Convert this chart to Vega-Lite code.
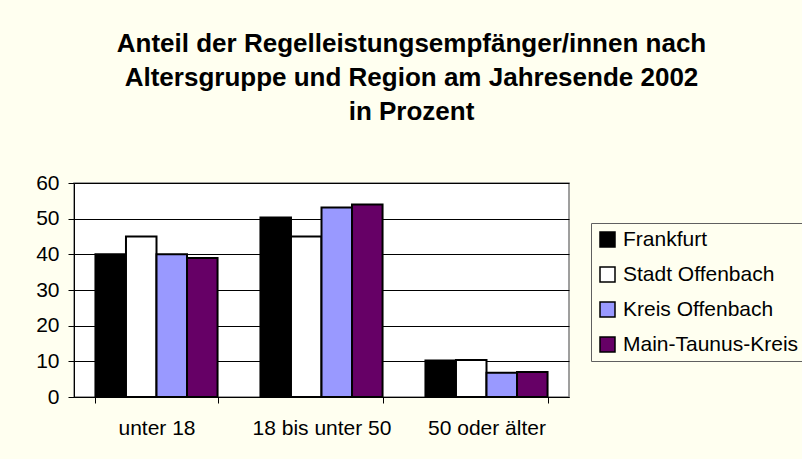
{
  "$schema": "https://vega.github.io/schema/vega-lite/v6.json",
  "width": 495,
  "height": 214,
  "autosize": {"type": "none"},
  "padding": {"left": 74, "top": 183, "right": 233, "bottom": 62},
  "background": "#FFFFF0",
  "title": {
    "text": ["Anteil der Regelleistungsempfänger/innen nach", "Altersgruppe und Region am Jahresende 2002", "in Prozent"],
    "font": "Liberation Sans",
    "fontSize": 26,
    "fontWeight": "bold",
    "lineHeight": 34,
    "color": "#000000",
    "anchor": "middle",
    "frame": "group",
    "dx": 90,
    "offset": 47
  },
  "data": {
    "values": [
      {"Altersgruppe": "unter 18", "Region": "Frankfurt", "Anteil": 40.0},
      {"Altersgruppe": "unter 18", "Region": "Stadt Offenbach", "Anteil": 45.0},
      {"Altersgruppe": "unter 18", "Region": "Kreis Offenbach", "Anteil": 40.0},
      {"Altersgruppe": "unter 18", "Region": "Main-Taunus-Kreis", "Anteil": 39.0},
      {"Altersgruppe": "18 bis unter 50", "Region": "Frankfurt", "Anteil": 50.3},
      {"Altersgruppe": "18 bis unter 50", "Region": "Stadt Offenbach", "Anteil": 45.0},
      {"Altersgruppe": "18 bis unter 50", "Region": "Kreis Offenbach", "Anteil": 53.1},
      {"Altersgruppe": "18 bis unter 50", "Region": "Main-Taunus-Kreis", "Anteil": 54.0},
      {"Altersgruppe": "50 oder älter", "Region": "Frankfurt", "Anteil": 10.2},
      {"Altersgruppe": "50 oder älter", "Region": "Stadt Offenbach", "Anteil": 10.4},
      {"Altersgruppe": "50 oder älter", "Region": "Kreis Offenbach", "Anteil": 6.8},
      {"Altersgruppe": "50 oder älter", "Region": "Main-Taunus-Kreis", "Anteil": 7.0}
    ]
  },
  "mark": {"type": "bar", "stroke": "#000000", "strokeWidth": 2},
  "encoding": {
    "x": {
      "field": "Altersgruppe",
      "type": "nominal",
      "sort": ["unter 18", "18 bis unter 50", "50 oder älter"],
      "scale": {"paddingInner": 0.26, "paddingOuter": 0.13},
      "axis": {
        "title": null,
        "labelAngle": 0,
        "tickBand": "extent",
        "tickSize": 6,
        "tickColor": "#000000",
        "domainColor": "#000000",
        "labelPadding": 14,
        "labelFont": "Liberation Sans",
        "labelFontSize": 21,
        "labelColor": "#000000",
        "grid": false
      }
    },
    "xOffset": {
      "field": "Region",
      "type": "nominal",
      "sort": ["Frankfurt", "Stadt Offenbach", "Kreis Offenbach", "Main-Taunus-Kreis"],
      "scale": {"paddingInner": 0, "paddingOuter": 0}
    },
    "y": {
      "field": "Anteil",
      "type": "quantitative",
      "scale": {"domain": [0, 60], "nice": false},
      "axis": {
        "title": null,
        "values": [0, 10, 20, 30, 40, 50, 60],
        "tickSize": 6,
        "tickColor": "#000000",
        "domainColor": "#000000",
        "gridColor": "#000000",
        "gridOpacity": 1,
        "labelPadding": 9,
        "labelFont": "Liberation Sans",
        "labelFontSize": 21,
        "labelColor": "#000000"
      }
    },
    "color": {
      "field": "Region",
      "type": "nominal",
      "sort": ["Frankfurt", "Stadt Offenbach", "Kreis Offenbach", "Main-Taunus-Kreis"],
      "scale": {
        "domain": ["Frankfurt", "Stadt Offenbach", "Kreis Offenbach", "Main-Taunus-Kreis"],
        "range": ["#000000", "#FFFFFF", "#9999FF", "#660066"]
      },
      "legend": {
        "orient": "none",
        "legendX": 517,
        "legendY": 40,
        "title": null,
        "padding": 6,
        "strokeColor": "#606060",
        "fillColor": "#FFFFF0",
        "rowPadding": 13,
        "labelFont": "Liberation Sans",
        "labelFontSize": 21,
        "labelColor": "#000000",
        "labelLimit": 0,
        "labelOffset": 5,
        "symbolType": "square",
        "symbolSize": 225,
        "symbolStrokeColor": "#000000",
        "symbolStrokeWidth": 1.5,
        "symbolOpacity": 1
      }
    }
  },
  "config": {
    "view": {"fill": "#FFFFFF", "stroke": "#808080", "strokeWidth": 1.5}
  }
}
